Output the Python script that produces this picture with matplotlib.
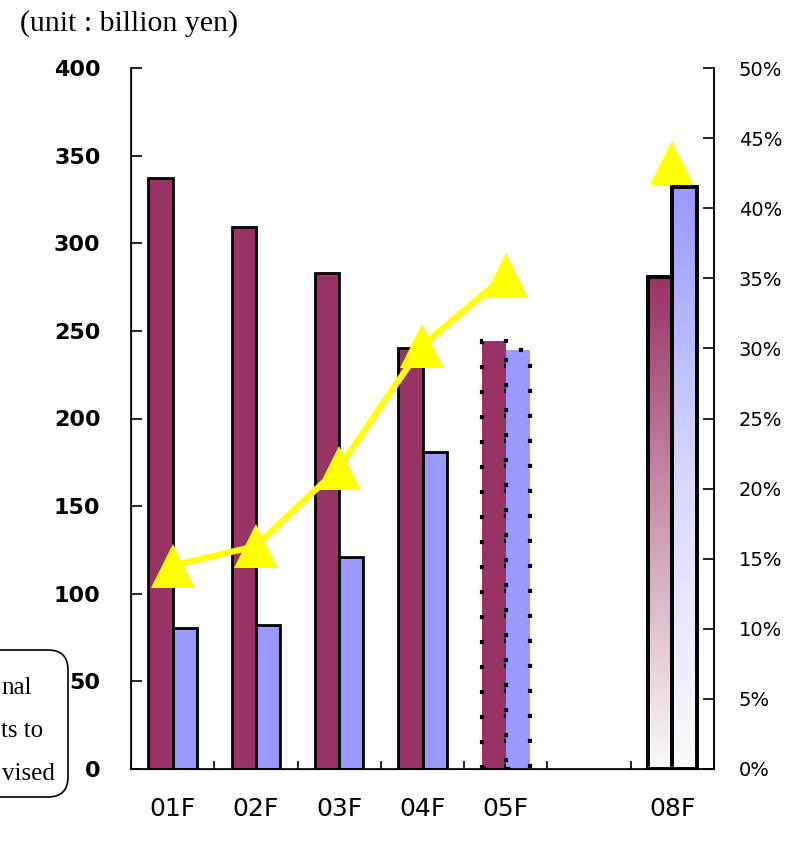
import numpy as np
import matplotlib
matplotlib.use("Agg")
import matplotlib.pyplot as plt
from matplotlib.patches import FancyBboxPatch
from matplotlib.transforms import IdentityTransform
from matplotlib.colors import LinearSegmentedColormap

# data
years = ["01F", "02F", "03F", "04F", "05F", "", "08F"]
sales = [337, 309, 283, 240, 244, np.nan, 281]        # maroon bars (billion yen)
profit = [80.5, 82, 121, 181, 239, np.nan, 332]       # blue bars (billion yen)
ratio = [14.5, 15.9, 21.5, 30.2, 35.2, np.nan, 43.2]  # yellow line (%)
kind = ["actual", "actual", "actual", "actual", "forecast", "none", "target"]
note_lines = ["nal", "ts to", "vised"]                # visible part of the cut-off note box

maroon = "#993366"
blue = "#9999ff"

W, H = 809, 841
fig = plt.figure(figsize=(W / 100, H / 100), dpi=100)
ax = fig.add_axes([131 / W, 72 / H, 583 / W, 701 / H])

x = np.arange(len(years))
w = 0.29

for i in x:
    if kind[i] == "none":
        continue
    if kind[i] == "actual":
        ax.bar(x[i] - w / 2, sales[i], w, color=maroon, edgecolor="black", linewidth=2, zorder=2)
        ax.bar(x[i] + w / 2, profit[i], w, color=blue, edgecolor="black", linewidth=2, zorder=2)
    elif kind[i] == "forecast":
        ax.bar(x[i] - w / 2, sales[i], w, color=maroon, edgecolor="black", linewidth=3,
               linestyle=(0, (1, 5)), zorder=2)
        ax.bar(x[i] + w / 2, profit[i], w, color=blue, edgecolor="black", linewidth=3,
               linestyle=(0, (1, 5)), zorder=2)
    else:
        for val, col, off, mid in [(sales[i], maroon, -w / 2, "#cc99b2"), (profit[i], blue, w / 2, "#d8d8ff")]:
            b = ax.bar(x[i] + off, val, w, facecolor="none", edgecolor="black", linewidth=2.8, zorder=3)[0]
            cmap = LinearSegmentedColormap.from_list("g", ["#fafafa", mid, col])
            grad = np.linspace(0, 1, 256).reshape(-1, 1)
            im = ax.imshow(grad, cmap=cmap, origin="lower", aspect="auto", zorder=2,
                           extent=[b.get_x(), b.get_x() + b.get_width(), 0, b.get_height()])
            im.set_clip_path(b)

ax.set_xlim(-0.5, len(years) - 0.5)
ax.set_ylim(0, 400)
ax.set_yticks(np.arange(0, 401, 50))
ax.set_xticks(x)
ax.set_xticklabels(years, fontsize=18, family="DejaVu Sans")
ax.set_xticks(np.arange(-0.5, len(years), 1), minor=True)
ax.tick_params(axis="x", which="major", length=0, pad=20)
ax.tick_params(axis="x", which="minor", direction="in", length=6, width=1.2)
ax.tick_params(axis="y", direction="in", length=8, width=1.2, pad=22, labelsize=16)
for lab in ax.get_yticklabels():
    lab.set_fontweight("bold")
ax.spines["top"].set_visible(False)
for s in ["left", "right", "bottom"]:
    ax.spines[s].set_linewidth(1.2)

ax2 = ax.twinx()
ax2.plot(x, ratio, color="#ffff00", linewidth=4.5, marker="^", markersize=31,
         markeredgewidth=0, zorder=5)
ax2.set_ylim(0, 50)
ax2.set_yticks(np.arange(0, 51, 5))
ax2.set_yticklabels([f"{v}%" for v in range(0, 51, 5)])
ax2.tick_params(axis="y", direction="in", length=8, width=1.2, pad=18, labelsize=14)
ax2.spines["top"].set_visible(False)
ax2.spines["right"].set_linewidth(1.2)

fig.text(20 / W, 1 - 24 / H, "(unit : billion yen)", family="Liberation Serif",
         fontsize=21.5, ha="left", va="center")

# note box cut by the left edge
box = FancyBboxPatch((-40, H - 797), 108, 147, boxstyle="round,pad=0,rounding_size=20",
                     facecolor="white", edgecolor="black", linewidth=1.2,
                     transform=IdentityTransform())
fig.add_artist(box)
for txt, xr, yc in zip(note_lines, [32, 43, 55], [688, 731, 774]):
    fig.text(xr / W, 1 - yc / H, txt, family="Liberation Serif", fontsize=18,
             ha="right", va="center")

fig.savefig("out.png", dpi=100)
